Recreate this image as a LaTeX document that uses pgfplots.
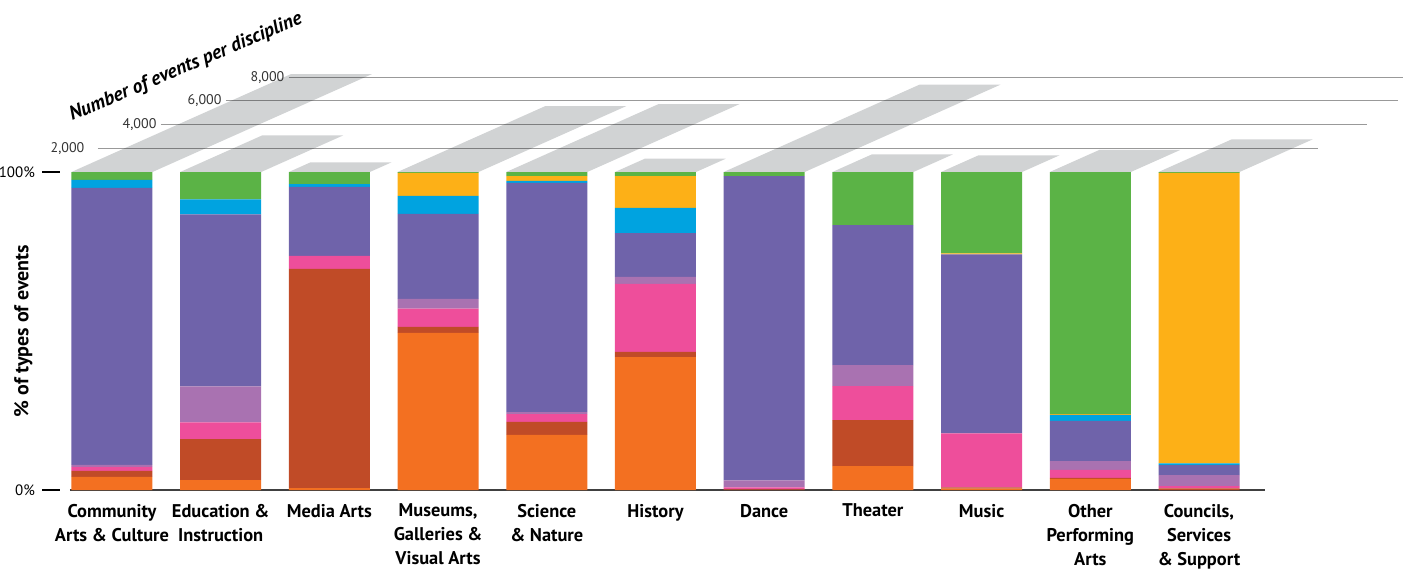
\documentclass[border=0pt]{standalone}
\usepackage{pgfplots}
\pgfplotsset{compat=1.18}
\usepackage{pgfplotstable}
\usepackage{fontspec}
\setmainfont{PT Sans}

\definecolor{corange}{HTML}{F37021}
\definecolor{cdarkred}{HTML}{C04B27}
\definecolor{cpink}{HTML}{EE4E9B}
\definecolor{clpurple}{HTML}{A972B1}
\definecolor{cpurple}{HTML}{6F63AA}
\definecolor{cblue}{HTML}{00A3E0}
\definecolor{cyellow}{HTML}{FDB017}
\definecolor{cgreen}{HTML}{5BB346}
\definecolor{pgray}{HTML}{D1D3D4}

% share of event types (percent), bottom to top
\pgfplotstableread{
x orange darkred pink lpurple purple blue yellow green
0  4.1  1.9  1.3  0.6 87.1 2.5  0.0  2.5
1  3.1 12.9  5.3 11.3 54.1 4.7  0.0  8.6
2  0.6 68.9  4.1  0.0 21.7 0.9  0.0  3.8
3 49.4  1.9  5.7  3.1 26.7 5.7  7.2  0.3
4 17.3  4.1  2.5  0.6 72.1 0.6  1.5  1.3
5 41.8  1.6 21.4  2.2 13.8 7.9 10.0  1.3
6  0.0  0.2  0.6  2.2 95.7 0.0  0.0  1.3
7  7.5 14.5 10.7  6.6 44.0 0.0  0.0 16.7
8  0.4  0.4 17.0  0.0 56.3 0.0  0.3 25.6
9  3.5  0.3  2.5  2.8 12.6 1.9  0.3 76.1
10 0.0  0.5  0.7  3.5  3.1 0.6 91.3  0.3
}\shares

% parallelogram on top of bar #1 for a count of #2 events
\newcommand\para[2]{%
  \pgfmathsetmacro\xa{#1-0.3726}%
  \pgfmathsetmacro\xb{#1+0.3726}%
  \pgfmathsetmacro\dx{#2*0.0002508}%
  \pgfmathsetmacro\yt{100+#2*0.003727}%
  \pgfmathsetmacro\xc{\xb+\dx}%
  \pgfmathsetmacro\xd{\xa+\dx}%
  \edef\tmp{\noexpand\addplot[fill=pgray, draw=none] coordinates {(\xa,100) (\xb,100) (\xc,\yt) (\xd,\yt)} -- cycle;}%
  \tmp
}

\tikzset{
  gridlab/.style={pos=0, anchor=east, inner sep=0pt, opacity=1, text=black!80,
    font=\fontsize{7}{8}\selectfont},
}

\begin{document}
\begin{tikzpicture}
\useasboundingbox (0,0) rectangle (701.5pt,284.5pt);

\pgfplotsset{
  common/.style={
    at={(35pt,39.5pt)}, anchor=south west,
    scale only axis, width=597.5pt, height=159pt,
    xmin=-0.386, xmax=10.607, ymin=0, ymax=100,
    clip=false,
  },
}

% counts per discipline
\begin{axis}[common, axis lines=none]
  \para{0}{8270}
  \para{1}{3100}
  \para{2}{820}
  \para{3}{5570}
  \para{4}{5740}
  \para{5}{1120}
  \para{6}{7370}
  \para{7}{1490}
  \para{8}{1410}
  \para{9}{1860}
  \para{10}{2760}
  \addplot[black, opacity=0.4, line width=0.6pt] coordinates {(-0.129,107.45) (11.095,107.45)}
    node[gridlab, xshift=-6.5pt] {2,000};
  \addplot[black, opacity=0.4, line width=0.6pt] coordinates {(0.451,114.91) (11.546,114.91)}
    node[gridlab, xshift=-2pt] {4,000};
  \addplot[black, opacity=0.4, line width=0.6pt] coordinates {(1.049,122.36) (11.831,122.36)}
    node[gridlab, xshift=-2pt] {6,000};
  \addplot[black, opacity=0.4, line width=0.6pt] coordinates {(1.628,129.82) (11.95,129.82)}
    node[gridlab, xshift=-2pt] {8,000};
  \node[anchor=base west, rotate=23, inner sep=0pt, font=\bfseries\itshape\fontsize{9.8}{11}\selectfont]
    at (axis cs:-0.368,116.0) {Number of events per discipline};
\end{axis}

% shares of event types
\begin{axis}[common,
  ybar stacked, bar width=40.5pt,
  axis x line*=bottom, axis y line*=left,
  x axis line style={-, line width=1pt, black!75},
  y axis line style={draw=none},
  xtick={0,...,10},
  xticklabels={{Community\\Arts \& Culture}, {Education \&\\Instruction}, {Media Arts},
    {Museums,\\Galleries \&\\Visual Arts}, {Science\\\& Nature}, {History}, {Dance}, {Theater},
    {Music}, {Other\\Performing\\Arts}, {Councils,\\Services\\\& Support}},
  xtick style={draw=none},
  xticklabel style={font=\bfseries\fontsize{9.2}{12}\selectfont, align=center, anchor=north, yshift=5.5pt},
  ytick={0,100}, yticklabels={0\%,100\%},
  tick align=outside, major tick length=9pt,
  ytick style={black, line width=0.8pt, xshift=-5pt},
  yticklabel style={font=\fontsize{7.5}{8}\selectfont, xshift=-5pt},
  ylabel={\% of types of events},
  every axis y label/.style={at={(axis description cs:-0.039,0.5)}, rotate=90, anchor=center,
    font=\bfseries\fontsize{10}{12}\selectfont},
  every axis plot/.append style={draw=none},
]
  \addplot[fill=corange] table[x=x, y=orange] {\shares};
  \addplot[fill=cdarkred] table[x=x, y=darkred] {\shares};
  \addplot[fill=cpink] table[x=x, y=pink] {\shares};
  \addplot[fill=clpurple] table[x=x, y=lpurple] {\shares};
  \addplot[fill=cpurple] table[x=x, y=purple] {\shares};
  \addplot[fill=cblue] table[x=x, y=blue] {\shares};
  \addplot[fill=cyellow] table[x=x, y=yellow] {\shares};
  \addplot[fill=cgreen] table[x=x, y=green] {\shares};
\end{axis}
\end{tikzpicture}
\end{document}
